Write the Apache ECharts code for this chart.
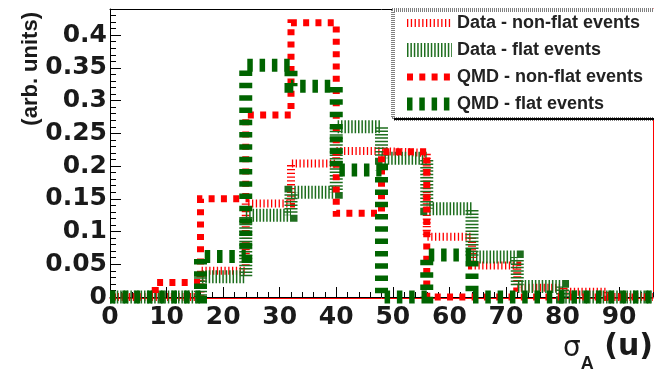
<!DOCTYPE html>
<html><head><meta charset="utf-8">
<script src="https://cdn.jsdelivr.net/npm/echarts@6/dist/echarts.min.js"></script>
<style>html,body{margin:0;padding:0;background:#fff}#c{width:654px;height:371px}</style>
</head><body><div id="c"></div>
<script>
// Histogram bin edges (sigma_A, u)
const binEdges = [0, 8, 16, 24, 32, 40, 48, 56, 64, 72, 80, 88, 96];
// Bin contents (arb. units), one value per bin
const dataNonFlat = [0, 0, 0.040, 0.143, 0.204, 0.223, 0.220, 0.092, 0.048, 0.014, 0.008, 0];
const dataFlat    = [0, 0, 0.031, 0.125, 0.160, 0.260, 0.212, 0.135, 0.061, 0.016, 0, 0];
const qmdNonFlat  = [0, 0.022, 0.150, 0.278, 0.419, 0.128, 0.222, 0, 0, 0, 0, 0];
const qmdFlat     = [0, 0, 0.062, 0.354, 0.322, 0.194, 0, 0.064, 0, 0, 0, 0];
const seriesNames = ['Data - non-flat events', 'Data - flat events', 'QMD - non-flat events', 'QMD - flat events'];

function histPoints(vals) {
  const pts = vals.map((v, i) => [binEdges[i], v]);
  pts.push([binEdges[binEdges.length - 1], vals[vals.length - 1]]);
  return pts;
}

const TXT = '#1a1a1a';
const chart = echarts.init(document.getElementById('c'), null, {renderer: 'canvas'});

function mkSeries(name, vals, color, width, dash, z) {
  return {
    name: name, type: 'line', step: 'end', symbol: 'none', showSymbol: false,
    clip: false, animation: false, z: z,
    xAxisIndex: 0, yAxisIndex: 0,
    data: histPoints(vals),
    itemStyle: {color: color},
    lineStyle: {color: color, width: width, type: dash, cap: 'butt', join: 'miter'},
    emphasis: {disabled: true}
  };
}

const option = {
  animation: false,
  backgroundColor: '#fff',
  grid: {left: 110, right: 1, top: 9, bottom: 74, containLabel: false, outerBoundsMode: 'none'},
  xAxis: [
    {
      type: 'value', min: 0, max: 96, interval: 10, position: 'bottom',
      axisLine: {show: true, onZero: false, lineStyle: {color: '#000', width: 1}},
      axisTick: {show: true, inside: true, length: 10, lineStyle: {color: '#000', width: 1}},
      axisLabel: {show: true, margin: 8, fontSize: 25, fontWeight: 'bold', fontFamily: 'DejaVu Sans', color: TXT, showMaxLabel: false},
      splitLine: {show: false},
      name: '{s|σ}{a|A}{u| (u)}', nameLocation: 'end', nameGap: 0, nameMoveOverlap: false,
      nameTextStyle: {
        align: 'right', verticalAlign: 'top', padding: [42, 0, 0, 0],
        rich: {
          s: {fontFamily: 'DejaVu Sans', fontSize: 28, lineHeight: 28, color: TXT, verticalAlign: 'bottom', padding: [0, 0, 10, 0]},
          a: {fontFamily: 'Liberation Sans', fontWeight: 'bold', fontSize: 18, lineHeight: 18, color: TXT, verticalAlign: 'bottom'},
          u: {fontFamily: 'DejaVu Sans', fontWeight: 'bold', fontSize: 30, lineHeight: 34, color: TXT, verticalAlign: 'bottom', padding: [0, 0, 11, 0]}
        }
      }
    },
    {
      type: 'value', min: 0, max: 96, interval: 2, position: 'bottom',
      axisLine: {show: false, onZero: false},
      axisTick: {show: true, inside: true, length: 5, lineStyle: {color: '#000', width: 1}},
      axisLabel: {show: false}, splitLine: {show: false}
    },
    {
      type: 'value', min: 0, max: 96, position: 'top',
      axisLine: {show: true, onZero: false, lineStyle: {color: '#000', width: 1}},
      axisTick: {show: false}, axisLabel: {show: false}, splitLine: {show: false}
    },
    {
      type: 'value', min: 0, max: 96, position: 'bottom', offset: 1,
      axisLine: {show: true, onZero: false, lineStyle: {color: '#ff0000', width: 1}},
      axisTick: {show: false}, axisLabel: {show: false}, splitLine: {show: false}
    }
  ],
  yAxis: [
    {
      type: 'value', min: 0, max: 0.44, interval: 0.05, position: 'left',
      axisLine: {show: true, onZero: false, lineStyle: {color: '#000', width: 1}},
      axisTick: {show: true, inside: true, length: 11, lineStyle: {color: '#000', width: 1}},
      axisLabel: {show: true, margin: 3, fontSize: 25, fontWeight: 'bold', fontFamily: 'DejaVu Sans', color: TXT, showMaxLabel: false},
      splitLine: {show: false},
      name: '(arb. units)', nameLocation: 'end', nameGap: -3, nameRotate: 90, nameMoveOverlap: false,
      nameTextStyle: {
        fontFamily: "'Liberation Sans', sans-serif", fontWeight: 'bold', fontSize: 22,
        color: TXT, align: 'right', verticalAlign: 'bottom', padding: [0, 0, 68, 0]
      }
    },
    {
      type: 'value', min: 0, max: 0.44, interval: 0.01, position: 'left',
      axisLine: {show: false, onZero: false},
      axisTick: {show: true, inside: true, length: 6, lineStyle: {color: '#000', width: 1}},
      axisLabel: {show: false}, splitLine: {show: false}
    },
    {
      type: 'value', min: 0, max: 0.44, position: 'right',
      axisLine: {show: true, onZero: false, lineStyle: {color: '#ff0000', width: 1}},
      axisTick: {show: false}, axisLabel: {show: false}, splitLine: {show: false}
    }
  ],
  legend: {
    show: true, orient: 'vertical', left: 392, top: 9,
    padding: [5, 21, 5, 8], itemWidth: 45, itemHeight: 14, itemGap: 9,
    backgroundColor: '#fff', borderColor: '#000', borderWidth: 1, borderType: 'dotted',
    shadowColor: '#000', shadowBlur: 0, shadowOffsetX: 2, shadowOffsetY: 2,
    selectedMode: false,
    itemStyle: {opacity: 0},
    textStyle: {fontSize: 18, fontWeight: 'bold', fontFamily: 'Liberation Sans', color: '#222', padding: [0, 0, 0, 0]},
    data: [
      {name: seriesNames[0], lineStyle: {width: 8}},
      {name: seriesNames[1], lineStyle: {width: 14}},
      {name: seriesNames[2], lineStyle: {width: 7}},
      {name: seriesNames[3], lineStyle: {width: 13}}
    ]
  },
  series: [
    mkSeries(seriesNames[0], dataNonFlat, '#ff0000', 8, [1.3, 2.5], 2),
    mkSeries(seriesNames[1], dataFlat, '#1e6e1e', 13, [1.5, 1.9], 3),
    mkSeries(seriesNames[2], qmdNonFlat, '#ff0000', 7, [6, 6.3], 4),
    mkSeries(seriesNames[3], qmdFlat, '#006400', 13, [5.5, 6.8], 5)
  ]
};
chart.setOption(option);
</script>
</body></html>
